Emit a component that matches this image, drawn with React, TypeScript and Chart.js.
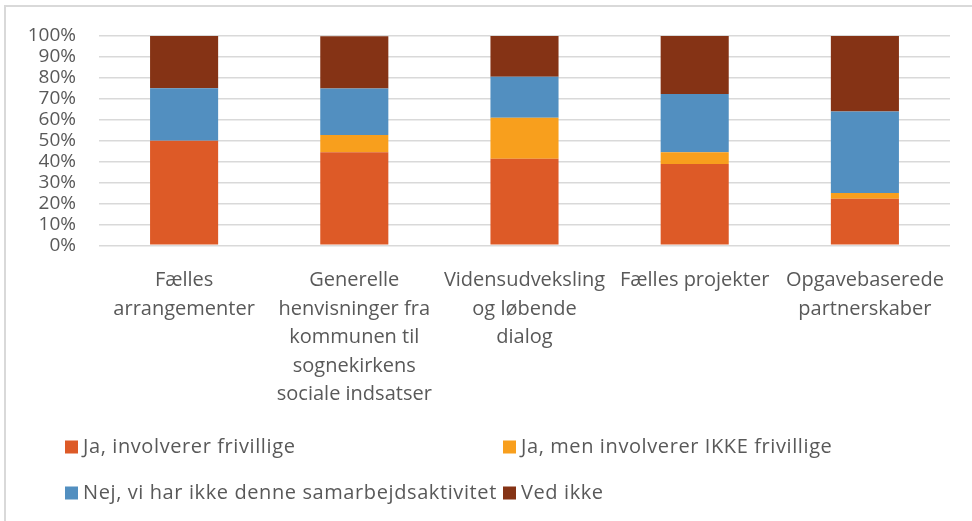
import React, { useEffect, useRef } from "react";
import { Chart, registerables } from "chart.js";

Chart.register(...registerables);

// ---- data ----
const categories: string[][] = [
  ["Fælles", "arrangementer"],
  ["Generelle", "henvisninger fra", "kommunen til", "sognekirkens", "sociale indsatser"],
  ["Vidensudveksling", "og løbende", "dialog"],
  ["Fælles projekter"],
  ["Opgavebaserede", "partnerskaber"],
];
const seriesNames = [
  "Ja, involverer frivillige",
  "Ja, men involverer IKKE frivillige",
  "Nej, vi har ikke denne samarbejdsaktivitet",
  "Ved ikke",
];
const jaFrivillige = [50, 44.4, 41.3, 38.9, 22.2];
const jaIkkeFrivillige = [0, 8.3, 19.6, 5.6, 2.8];
const nejIkkeAktivitet = [25, 22.2, 19.6, 27.8, 38.9];
const vedIkke = [25, 25, 19.5, 27.7, 36.1];
const yTickValues = [0, 10, 20, 30, 40, 50, 60, 70, 80, 90, 100];

const seriesColors = ["#DD5A27", "#F89F1D", "#528FC0", "#853315"];
const TEXT = "#595959";
const FONT = "'Open Sans', sans-serif";

const frameAndLegend = {
  id: "frameAndLegend",
  beforeDraw(chart: any) {
    const ctx = chart.ctx;
    ctx.save();
    ctx.fillStyle = "#ffffff";
    ctx.fillRect(0, 0, chart.width, chart.height);
    ctx.strokeStyle = "#d9d9d9";
    ctx.lineWidth = 2;
    ctx.beginPath();
    ctx.moveTo(5, chart.height);
    ctx.lineTo(5, 6);
    ctx.lineTo(chart.width, 6);
    ctx.stroke();
    ctx.restore();
  },
  afterDraw(chart: any) {
    const ctx = chart.ctx;
    const colX = [65, 503];
    const rowY = [447, 493];
    ctx.save();
    ctx.font = `20px ${FONT}`;
    try {
      ctx.letterSpacing = "0.6px";
    } catch (e) {}
    ctx.textBaseline = "middle";
    ctx.textAlign = "left";
    chart.data.datasets.forEach((ds: any, i: number) => {
      const x = colX[i % 2];
      const y = rowY[Math.floor(i / 2)];
      ctx.fillStyle = ds.backgroundColor;
      ctx.fillRect(x, y - 6.5, 13, 13);
      ctx.fillStyle = TEXT;
      ctx.fillText(ds.label, x + 18, y);
    });
    ctx.restore();
  },
};

export default function App() {
  const ref = useRef<HTMLCanvasElement>(null);

  useEffect(() => {
    document.body.style.margin = "0";
    const canvas = ref.current!;
    const seriesData = [jaFrivillige, jaIkkeFrivillige, nejIkkeAktivitet, vedIkke];
    const chart = new Chart(canvas, {
      type: "bar",
      data: {
        labels: categories,
        datasets: seriesNames.map((name, i) => ({
          label: name,
          data: seriesData[i],
          backgroundColor: seriesColors[i],
          borderWidth: 0,
          barPercentage: 0.4,
          categoryPercentage: 1,
        })),
      },
      options: {
        animation: false,
        responsive: false,
        devicePixelRatio: 1,
        layout: { padding: { top: 36, left: 6, right: 22, bottom: 0 } },
        plugins: {
          legend: { display: false },
          tooltip: { enabled: false },
        },
        scales: {
          x: {
            stacked: true,
            grid: { display: false },
            border: { display: false },
            ticks: {
              color: TEXT,
              font: { family: FONT, size: 20, lineHeight: 1.425 },
              padding: 13,
              maxRotation: 0,
              autoSkip: false,
            },
            afterFit: (s: any) => {
              s.height = 275.7;
            },
          },
          y: {
            stacked: true,
            min: 0,
            max: 100,
            grid: { color: "#d9d9d9", lineWidth: 1.5, drawTicks: false },
            border: { display: false },
            afterBuildTicks: (s: any) => {
              s.ticks = yTickValues.map((v) => ({ value: v }));
            },
            ticks: {
              color: TEXT,
              font: { family: FONT, size: 19 },
              padding: 23,
              autoSkip: false,
              callback: (v: any) => `${v}%`,
            },
            afterFit: (s: any) => {
              s.width = 93;
            },
          },
        },
      },
      plugins: [frameAndLegend],
    });
    return () => chart.destroy();
  }, []);

  return <canvas ref={ref} width={972} height={521} style={{ display: "block" }} />;
}
